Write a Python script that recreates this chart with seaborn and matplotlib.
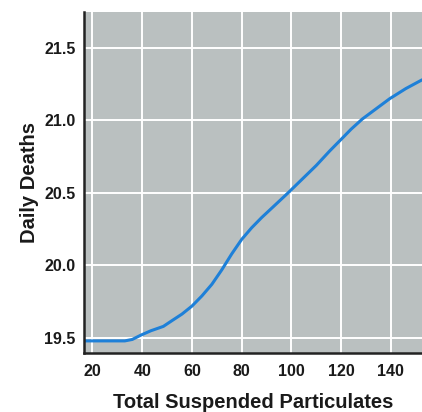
import matplotlib
matplotlib.use("Agg")
import matplotlib.pyplot as plt
import seaborn as sns
import pandas as pd

tsp = [16.6, 25, 33, 36, 39.5, 43.5, 48.5, 52, 56, 60, 64, 68, 72, 76, 80, 84,
       88, 93, 98.6, 104, 110, 115.4, 120, 124, 128.5, 134, 139.5, 146, 152.5]
deaths = [19.48, 19.48, 19.48, 19.49, 19.52, 19.55, 19.58, 19.62, 19.665, 19.72,
          19.79, 19.87, 19.97, 20.08, 20.18, 20.26, 20.33, 20.41, 20.50, 20.59,
          20.69, 20.79, 20.87, 20.94, 21.01, 21.08, 21.15, 21.22, 21.28]
x_ticks = [20, 40, 60, 80, 100, 120, 140]
y_ticks = [19.5, 20.0, 20.5, 21.0, 21.5]

df = pd.DataFrame({"tsp": tsp, "deaths": deaths})

sns.set_theme(style="white")
plt.rcParams['font.family'] = ['Liberation Sans', 'DejaVu Sans']

fig = plt.figure(figsize=(4.22, 4.12), dpi=100)
ax = fig.add_axes([84/422, (412-352.5)/412, 1 - 84/422, (352.5-12)/412])
ax.set_facecolor("#bac0c0")

sns.lineplot(data=df, x="tsp", y="deaths", ax=ax, color="#1e80d8", linewidth=2.2)

ax.set_xlim(16.6, 152.5)
ax.set_ylim(19.4, 21.748)
ax.set_xticks(x_ticks)
ax.set_yticks(y_ticks)
ax.set_xticklabels([str(t) for t in x_ticks], fontsize=11.5, fontweight="bold", color="#1a1a1a")
ax.set_yticklabels([f"{t:.1f}" for t in y_ticks], fontsize=11.5, fontweight="bold", color="#1a1a1a")
ax.grid(True, color="white", linewidth=1.4)
ax.set_axisbelow(True)
ax.tick_params(axis="x", length=0, pad=8)
ax.tick_params(axis="y", length=0, pad=6)

for s in ["top", "right"]:
    ax.spines[s].set_visible(False)
for s in ["left", "bottom"]:
    ax.spines[s].set_color("#222222")
    ax.spines[s].set_linewidth(1.8)

ax.set_xlabel("Total Suspended Particulates", fontsize=14.5, fontweight="bold",
              color="#1a1a1a", labelpad=10)
ax.set_ylabel("Daily Deaths", fontsize=14.5, fontweight="bold", color="#1a1a1a", labelpad=4)

fig.savefig("out.png", dpi=100, facecolor="white")
